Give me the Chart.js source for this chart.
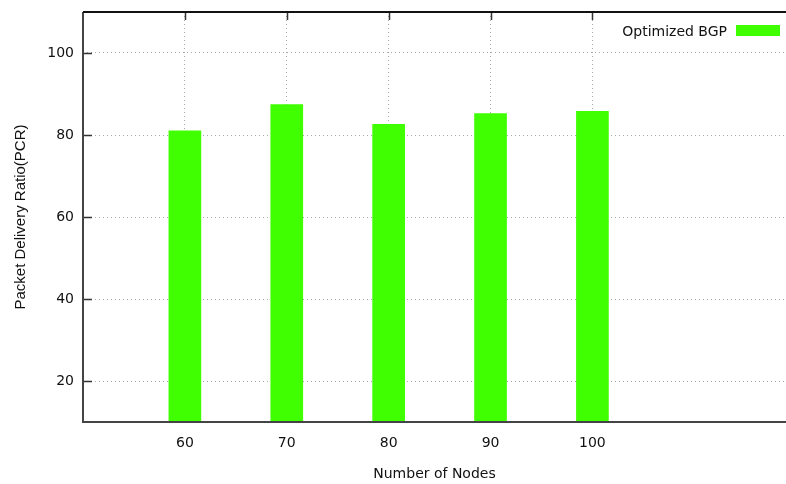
<!DOCTYPE html>
<html>
<head>
<meta charset="utf-8">
<script src="https://cdn.jsdelivr.net/npm/chart.js@4"></script>
<style>
  html, body { margin: 0; padding: 0; background: #fff; }
  #wrap { width: 786px; height: 484px; position: relative; }
</style>
</head>
<body>
<div id="wrap"><canvas id="pdr-chart"></canvas></div>
<script>
// Data
const nodes = [60, 70, 80, 90, 100];
const pdrOptimizedBGP = [81.0, 87.4, 82.6, 85.2, 85.8];
const yTicks = [20, 40, 60, 80, 100];
const seriesLabel = 'Optimized BGP';
const barColor = '#40ff00';

const tickFont = { family: 'DejaVu Sans', size: 14 };

// Gnuplot-like frame, inward tick marks and key
const framePlugin = {
  id: 'frame',
  afterDatasetsDraw(chart) {
    const { ctx, chartArea: a, scales } = chart;
    ctx.save();
    // ticks pointing inside the frame
    ctx.strokeStyle = '#333';
    ctx.lineWidth = 1.5;
    ctx.beginPath();
    scales.y.ticks.forEach(t => {
      const py = Math.round(scales.y.getPixelForValue(t.value)) + 0.5;
      ctx.moveTo(a.left, py);
      ctx.lineTo(a.left + 9, py);
    });
    scales.x.ticks.forEach(t => {
      const px = Math.round(scales.x.getPixelForValue(t.value)) + 0.5;
      ctx.moveTo(px, a.top);
      ctx.lineTo(px, a.top + 8);
    });
    ctx.stroke();
    // border
    ctx.lineWidth = 2;
    ctx.strokeStyle = '#444';
    ctx.beginPath();
    ctx.moveTo(a.left, a.top);
    ctx.lineTo(a.left, a.bottom);
    ctx.lineTo(a.right, a.bottom);
    ctx.stroke();
    ctx.strokeStyle = '#111';
    ctx.beginPath();
    ctx.moveTo(a.left, a.top);
    ctx.lineTo(a.right, a.top);
    ctx.stroke();
    // key
    const ds = chart.data.datasets[0];
    ctx.font = '14px "DejaVu Sans"';
    ctx.fillStyle = '#111';
    ctx.textAlign = 'right';
    ctx.textBaseline = 'middle';
    ctx.fillText(ds.label, a.right - 59, a.top + 20);
    ctx.fillStyle = ds.backgroundColor;
    ctx.fillRect(a.right - 50, a.top + 13, 44, 11);
    ctx.restore();
  }
};

new Chart(document.getElementById('pdr-chart'), {
  type: 'bar',
  data: {
    datasets: [{
      label: seriesLabel,
      data: nodes.map((n, i) => ({ x: n, y: pdrOptimizedBGP[i] })),
      backgroundColor: barColor,
      borderWidth: 0,
      barThickness: 32
    }]
  },
  options: {
    responsive: true,
    maintainAspectRatio: false,
    animation: false,
    layout: { padding: { top: 12, right: 0, left: 0, bottom: 0 } },
    plugins: {
      legend: { display: false },
      tooltip: { enabled: false }
    },
    scales: {
      x: {
        type: 'linear',
        min: 50,
        max: 119,
        offset: false,
        afterBuildTicks: (scale) => { scale.ticks = nodes.map(v => ({ value: v })); },
        afterFit: (scale) => {
          scale.height = 62;
          scale.paddingLeft = 0;
          scale.paddingRight = 0;
        },
        ticks: { font: tickFont, color: '#111', padding: 13, maxRotation: 0 },
        grid: { color: '#a8a8a8', lineWidth: 1, drawTicks: false, offset: false },
        border: { display: false, dash: [1, 3] },
        title: {
          display: true,
          text: 'Number of Nodes',
          font: tickFont,
          color: '#111',
          padding: { top: 0, bottom: 1 }
        }
      },
      y: {
        min: 10,
        max: 110,
        afterBuildTicks: (scale) => { scale.ticks = yTicks.map(v => ({ value: v })); },
        afterFit: (scale) => {
          scale.width = 83;
          scale.paddingTop = 0;
          scale.paddingBottom = 0;
        },
        ticks: { font: tickFont, color: '#111', padding: 9 },
        grid: { color: '#a8a8a8', lineWidth: 1, drawTicks: false },
        border: { display: false, dash: [1, 3] },
        title: {
          display: true,
          text: 'Packet Delivery Ratio(PCR)',
          font: { family: 'Liberation Sans', size: 15 },
          color: '#111',
          padding: { top: 12, bottom: 0 }
        }
      }
    }
  },
  plugins: [framePlugin]
});
</script>
</body>
</html>
